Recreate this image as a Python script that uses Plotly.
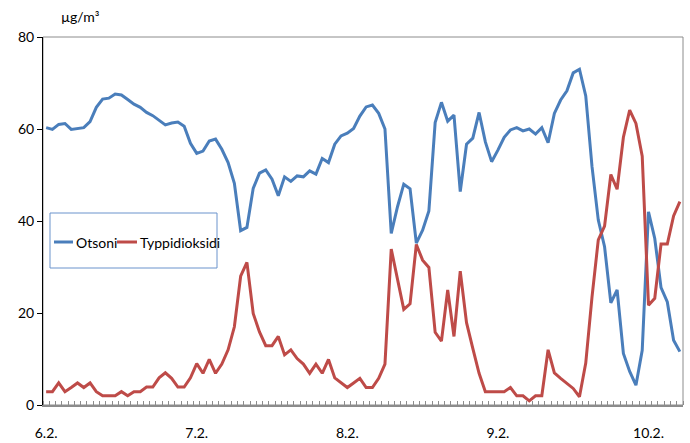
import plotly.graph_objects as go

# Hourly observations 6.2. 00:00 ... (102 hours)
hours = list(range(102))
day_labels = ["6.2.", "7.2.", "8.2.", "9.2.", "10.2."]

otsoni = [
    60.3, 59.9, 61.0, 61.2, 59.9, 60.1, 60.3, 61.6, 64.7, 66.5,
    66.7, 67.6, 67.4, 66.4, 65.4, 64.7, 63.6, 62.9, 61.8, 60.9,
    61.3, 61.5, 60.6, 56.9, 54.7, 55.2, 57.4, 57.8, 55.6, 52.7,
    48.2, 37.9, 38.6, 47.1, 50.4, 51.1, 49.1, 45.5, 49.6, 48.6,
    49.8, 49.6, 50.9, 50.2, 53.6, 52.7, 56.7, 58.5, 59.1, 60.1,
    62.8, 64.8, 65.2, 63.4, 60.0, 37.3, 43.1, 48.0, 47.0, 35.2,
    38.0, 42.2, 61.4, 65.8, 61.7, 63.0, 46.4, 56.7, 58.0, 63.6,
    57.2, 52.9, 55.4, 58.2, 59.8, 60.3, 59.6, 60.0, 58.9, 60.3,
    57.0, 63.4, 66.3, 68.3, 72.2, 73.0, 67.2, 51.8, 40.2, 34.4,
    22.2, 25.0, 11.2, 7.3, 4.3, 11.9, 42.0, 36.2, 25.5, 22.4,
    14.1, 11.6,
]

typpidioksidi = [
    2.9, 2.9, 4.8, 2.9, 3.8, 4.8, 3.8, 4.8, 2.9, 2.0,
    2.0, 2.0, 2.9, 2.0, 2.9, 2.9, 3.9, 3.9, 5.9, 7.0,
    5.8, 3.9, 3.9, 5.9, 9.0, 6.9, 9.9, 6.9, 8.9, 12.0,
    17.0, 28.0, 31.0, 19.9, 15.9, 12.9, 12.9, 14.9, 10.9, 12.0,
    10.1, 8.9, 6.9, 8.9, 6.9, 9.9, 5.9, 4.8, 3.8, 4.8,
    5.8, 3.8, 3.8, 5.8, 8.9, 33.9, 27.2, 20.8, 22.0, 34.9,
    31.5, 29.9, 15.8, 13.9, 25.0, 14.9, 29.1, 17.9, 12.3, 6.9,
    2.9, 2.9, 2.9, 2.9, 3.8, 2.0, 2.0, 0.9, 2.0, 2.0,
    12.0, 7.0, 5.8, 4.7, 3.6, 1.8, 9.1, 23.5, 35.9, 38.9,
    50.1, 46.9, 58.2, 64.1, 61.2, 54.1, 21.7, 23.2, 35.0, 35.0,
    41.1, 44.2,
]

series_names = ["Otsoni", "Typpidioksidi"]
colors = ["#4A7EBB", "#BE4B48"]
FONT = "Lato"

fig = go.Figure()
for name, vals, col in zip(series_names, [otsoni, typpidioksidi], colors):
    fig.add_trace(go.Scatter(x=hours, y=vals, mode="lines", name=name,
                             line=dict(color=col, width=3), showlegend=False))

n = len(hours)
fig.update_layout(
    width=690, height=443,
    margin=dict(l=43, r=7, t=37, b=38),
    paper_bgcolor="white", plot_bgcolor="white",
    font=dict(family=FONT, size=14, color="#000000"),
    xaxis=dict(
        range=[-0.5, n - 0.5], showgrid=False, zeroline=False,
        showline=True, linecolor="#8C8C8C", linewidth=1.5,
        tickmode="array", tickvals=[i * 24 for i in range(len(day_labels))],
        ticktext=day_labels, ticks="", ticklabelstandoff=14,
        minor=dict(ticks="inside", ticklen=4, tickcolor="#8C8C8C",
                   tickmode="array", tickvals=[i - 0.5 for i in range(n + 1)]),
        automargin=False, fixedrange=True,
    ),
    yaxis=dict(
        range=[0, 80], showgrid=False, zeroline=False,
        showline=True, linecolor="#000000", linewidth=1,
        tickvals=[0, 20, 40, 60, 80], ticks="outside", ticklen=5,
        tickcolor="#000000", automargin=False,
    ),
)

# plot-area frame (top & right)
fig.add_shape(type="rect", xref="paper", yref="paper", x0=0, x1=1, y0=0, y1=1,
              line=dict(color="#8C8C8C", width=1), layer="below")

# unit label
fig.add_annotation(text="µg/m³", xref="paper", yref="paper",
                   x=(80 - 43) / 640, y=(405 - 17) / 368, showarrow=False,
                   xanchor="center", yanchor="middle", font=dict(size=14))

# legend box
def px_x(px):
    return (px - 43) / 640

def px_y(py):
    return (405 - py) / 368

fig.add_shape(type="rect", xref="paper", yref="paper",
              x0=px_x(50), x1=px_x(217), y0=px_y(268), y1=px_y(213),
              line=dict(color="#6A93CC", width=1), fillcolor="white")
ly = px_y(242)
legend_items = [(54, 73, 74), (117, 137, 138)]
for (a, b, t), name, col in zip(legend_items, series_names, colors):
    fig.add_shape(type="line", xref="paper", yref="paper",
                  x0=px_x(a), x1=px_x(b), y0=ly, y1=ly,
                  line=dict(color=col, width=3))
    fig.add_annotation(text=name, xref="paper", yref="paper", x=px_x(t), y=ly,
                       showarrow=False, xanchor="left", yanchor="middle",
                       font=dict(size=14))

fig.write_html("out.html")
